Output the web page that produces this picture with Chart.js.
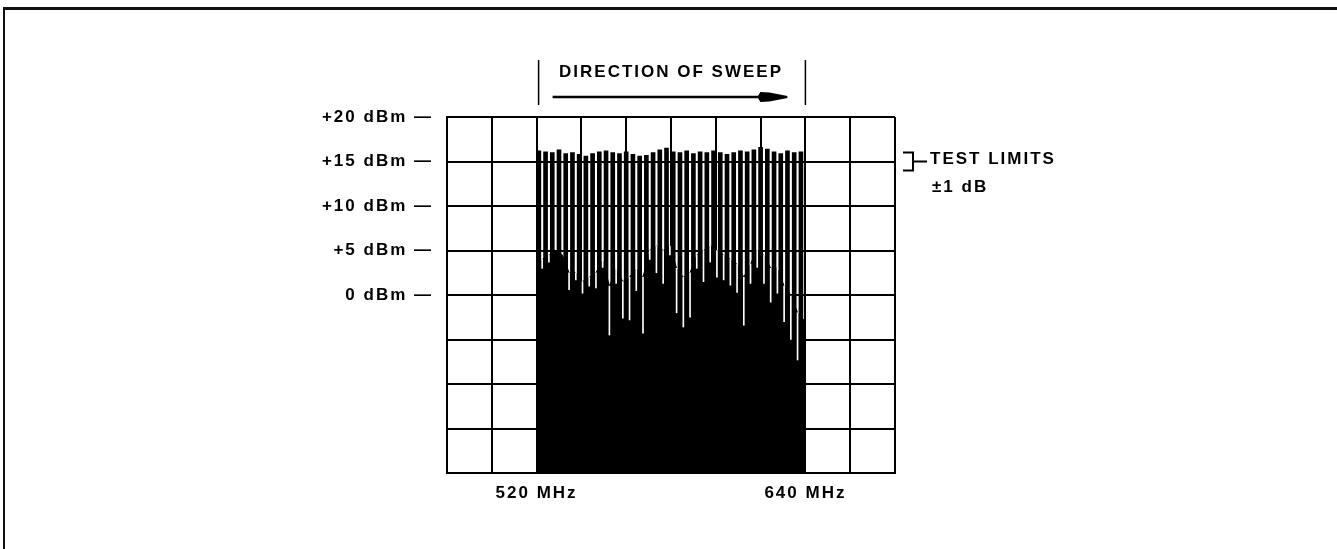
<!DOCTYPE html>
<html>
<head>
<meta charset="utf-8">
<title>Direction of sweep</title>
<script src="https://cdn.jsdelivr.net/npm/chart.js@4.4.1/dist/chart.umd.min.js"></script>
<style>
  html, body { margin: 0; padding: 0; background: #fff; }
  #wrap { position: relative; width: 1337px; height: 549px; overflow: hidden; }
  #wrap canvas { position: absolute; left: 0; top: 0; }
  #frame { position: absolute; left: 3px; top: 7px; width: 1340px; height: 560px;
           border-top: 3px solid #111; border-left: 2px solid #111; pointer-events: none; }
</style>
</head>
<body>
<div id="wrap">
  <canvas id="chart" width="1337" height="549"></canvas>
  <div id="frame"></div>
</div>
<script>
// Spectral lines across the sweep (MHz) and their peak levels (dBm)
const spikeFreqs = [521, 524, 527, 530, 533, 536, 539, 542, 545, 548,
                    551, 554, 557, 560, 563, 566, 569, 572, 575, 578,
                    581, 584, 587, 590, 593, 596, 599, 602, 605, 608,
                    611, 614, 617, 620, 623, 626, 629, 632, 635, 638];
const spikePeaks = [16.2, 16.1, 16.0, 16.3, 15.9, 16.0, 15.8, 15.6, 15.9, 16.1,
                    16.2, 16.0, 15.9, 16.1, 15.8, 15.6, 15.7, 16.0, 16.3, 16.5,
                    16.1, 16.0, 16.2, 15.9, 16.1, 16.0, 16.2, 16.0, 15.8, 16.0,
                    16.2, 16.1, 16.3, 16.6, 16.4, 16.1, 15.9, 16.2, 16.0, 16.1];

// Solid noise floor between the lines (MHz, dBm)
const floorFreqs = [520, 522.5, 525.5, 528.5, 531.5, 534.5, 537.5, 540.5, 543.5, 546.5,
                    549.5, 552.5, 555.5, 558.5, 561.5, 564.5, 567.5, 570.5, 573.5, 576.5,
                    579.5, 582.5, 585.5, 588.5, 591.5, 594.5, 597.5, 600.5, 603.5, 606.5,
                    609.5, 612.5, 615.5, 618.5, 621.5, 624.5, 627.5, 630.5, 633.5, 636.5, 640];
const floorLevels = [3.5, 4.0, 4.5, 5.0, 4.5, 2.5, 2.5, 1.5, 2.0, 2.5,
                     4.0, 1.0, 3.0, 1.5, 2.0, 3.0, 2.0, 5.0, 5.5, 5.0,
                     5.5, 3.0, 2.0, 2.5, 4.5, 5.0, 5.5, 5.0, 4.5, 4.0,
                     3.5, 2.0, 3.5, 5.0, 4.5, 3.0, 3.0, 1.0, 0.0, -2.0, -3.0];

// Depth reached by the narrow dropouts in each gap (dBm)
const dropDepths = [3.0, 3.7, 5.0, 4.5, 0.6, 1.7, 0.2, 1.0, 0.8, 3.1,
                    -4.5, 1.3, -2.6, -2.8, 0.5, -4.3, 4.0, 2.5, 1.3, 4.5,
                    -2.0, -3.6, -2.5, 3.0, 1.5, 3.7, 2.0, 1.7, 1.1, 0.3,
                    -3.4, 1.3, 3.1, 1.3, -0.8, 0.2, -3.0, -5.0, -7.3];

// Axis ticks that carry labels
const levelTicks = [20, 15, 10, 5, 0];
const freqTicks = [520, 640];
const levelRange = [-20, 20];
const freqRange = [480, 680];

// Annotations
const sweepTitle = 'DIRECTION OF SWEEP';
const sweepSpan = [520, 640];
const limitText = ['TEST LIMITS', '\u00B11 dB'];
const limitBand = [14, 16];

const FONT = "'Liberation Sans', Arial, 'DejaVu Sans', sans-serif";

const spikeData = spikeFreqs.map((f, i) => ({ x: f, y: [levelRange[0], spikePeaks[i]] }));
const floorData = floorFreqs.map((f, i) => ({ x: f, y: floorLevels[i] }));
const dropData = [];
dropDepths.forEach((d, k) => {
  const top = floorLevels[k + 1];
  if (d < top) dropData.push({ x: floorFreqs[k + 1], y: [d, top] });
});

const annotate = {
  id: 'annotate',
  beforeDraw(chart) {
    chart.ctx.letterSpacing = '2px';
  },
  afterDraw(chart) {
    const { ctx, chartArea: a } = chart;
    const xs = chart.scales.x, ys = chart.scales.y;
    const xl = xs.getPixelForValue(sweepSpan[0]);
    const xr = xs.getPixelForValue(sweepSpan[1]);
    ctx.save();
    ctx.strokeStyle = '#000';
    ctx.fillStyle = '#000';
    ctx.letterSpacing = '2px';

    // markers bounding the sweep
    ctx.lineWidth = 1.5;
    ctx.beginPath();
    ctx.moveTo(xl + 2, 60); ctx.lineTo(xl + 2, 105);
    ctx.moveTo(xr, 60); ctx.lineTo(xr, 105);
    ctx.stroke();

    // title
    ctx.font = 'bold 17px ' + FONT;
    ctx.textAlign = 'center';
    ctx.textBaseline = 'middle';
    ctx.fillText(sweepTitle, (xl + xr) / 2, 72);

    // arrow
    const ay = 97;
    ctx.lineWidth = 2.5;
    ctx.beginPath();
    ctx.moveTo(xl + 16, ay); ctx.lineTo(xr - 40, ay);
    ctx.stroke();
    ctx.beginPath();
    ctx.moveTo(xr - 48, ay);
    ctx.lineTo(xr - 45, ay - 5);
    ctx.lineTo(xr - 36, ay - 4.5);
    ctx.lineTo(xr - 18, ay - 1);
    ctx.lineTo(xr - 18, ay + 1);
    ctx.lineTo(xr - 36, ay + 4.5);
    ctx.lineTo(xr - 45, ay + 5);
    ctx.closePath();
    ctx.fill();

    // test limit bracket
    const yt = ys.getPixelForValue(limitBand[1]);
    const yb = ys.getPixelForValue(limitBand[0]);
    const ym = (yt + yb) / 2;
    const b0 = a.right + 8, b1 = a.right + 18;
    ctx.lineWidth = 2;
    ctx.beginPath();
    ctx.moveTo(b0, yt); ctx.lineTo(b1, yt); ctx.lineTo(b1, yb); ctx.lineTo(b0, yb);
    ctx.moveTo(b1, ym); ctx.lineTo(b1 + 14, ym);
    ctx.stroke();
    ctx.font = 'bold 17px ' + FONT;
    ctx.textAlign = 'left';
    ctx.fillText(limitText[0], b1 + 17, ym - 2);
    ctx.fillText(limitText[1], b1 + 19, ym + 26);
    ctx.restore();
  }
};

new Chart(document.getElementById('chart'), {
  type: 'bar',
  data: {
    datasets: [
      { type: 'bar', label: 'dropouts', data: dropData, backgroundColor: '#fff',
        borderWidth: 0, barThickness: 1, grouped: false, order: 0 },
      { type: 'bar', label: 'lines', data: spikeData, backgroundColor: '#000',
        borderWidth: 0, barThickness: 4, grouped: false, order: 1 },
      { type: 'line', label: 'floor', data: floorData, borderColor: '#000', borderWidth: 1,
        backgroundColor: '#000', fill: 'start', pointRadius: 0, tension: 0, order: 2 }
    ]
  },
  options: {
    responsive: false,
    animation: false,
    layout: { padding: { left: 0, right: 442, top: 117, bottom: 0 } },
    plugins: { legend: { display: false }, tooltip: { enabled: false } },
    scales: {
      x: {
        type: 'linear', min: freqRange[0], max: freqRange[1], offset: false,
        grid: { color: '#000', lineWidth: 2, drawTicks: false, offset: false },
        border: { color: '#000', width: 2 },
        ticks: {
          stepSize: 20, autoSkip: false, maxRotation: 0, padding: 10, color: '#000',
          font: { family: FONT, size: 17, weight: 'bold' },
          callback: v => freqTicks.includes(v) ? v + ' MHz' : ''
        },
        afterFit: s => { s.height = 76; }
      },
      y: {
        min: levelRange[0], max: levelRange[1],
        grid: { color: '#000', lineWidth: 2, drawTicks: false },
        border: { color: '#000', width: 2 },
        ticks: {
          stepSize: 5, autoSkip: false, padding: 14, color: '#000',
          font: { family: FONT, size: 17, weight: 'bold' },
          callback: v => levelTicks.includes(v) ? (v > 0 ? '+' : '') + v + ' dBm \u2014' : ''
        },
        afterFit: s => { s.width = 447; }
      }
    }
  },
  plugins: [annotate]
});
</script>
</body>
</html>
